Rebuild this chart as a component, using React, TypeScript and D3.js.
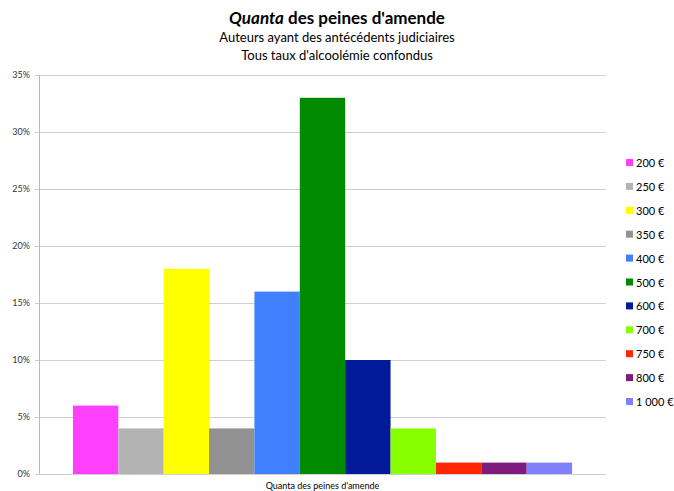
import React, { useEffect, useRef } from 'react';
import * as d3 from 'd3';

const categories = ['200 €', '250 €', '300 €', '350 €', '400 €', '500 €', '600 €', '700 €', '750 €', '800 €', '1 000 €'];
const values = [6, 4, 18, 4, 16, 33, 10, 4, 1, 1, 1];
const colors = ['#ff40ff', '#b3b3b3', '#ffff00', '#929292', '#4080ff', '#008a00', '#001a99', '#88ff00', '#ff2600', '#7f1a7f', '#8080ff'];
const yTicks = [0, 5, 10, 15, 20, 25, 30, 35];
const groupLabel = ['Quanta des peines d\'amende'];

const width = 674;
const height = 491;
const font = 'Lato, "Open Sans", sans-serif';

const App: React.FC = () => {
  const svgRef = useRef<SVGSVGElement>(null);

  useEffect(() => {
    const svg = d3.select(svgRef.current);
    svg.selectAll('*').remove();

    const marginLeft = 39;
    const marginRight = 68;
    const marginTop = 75;
    const plotBottom = 474;

    const x0 = d3.scaleBand<string>()
      .domain(groupLabel)
      .range([marginLeft, width - marginRight])
      .paddingInner(0)
      .paddingOuter(0.068);

    const x1 = d3.scaleBand<string>()
      .domain(categories)
      .range([0, x0.bandwidth()]);

    const y = d3.scaleLinear()
      .domain([0, 35])
      .range([plotBottom, marginTop]);

    // grid lines
    svg.append('g')
      .selectAll('line')
      .data(yTicks)
      .join('line')
      .attr('x1', marginLeft - 4)
      .attr('x2', width - marginRight)
      .attr('y1', d => y(d) + 0.5)
      .attr('y2', d => y(d) + 0.5)
      .attr('stroke', '#cfcfcf')
      .attr('stroke-width', 1);

    // y-axis line
    svg.append('line')
      .attr('x1', marginLeft + 0.5)
      .attr('x2', marginLeft + 0.5)
      .attr('y1', marginTop)
      .attr('y2', plotBottom)
      .attr('stroke', '#b8b8b8');

    // tick labels
    svg.append('g')
      .selectAll('text')
      .data(yTicks)
      .join('text')
      .attr('x', 30)
      .attr('y', d => y(d) + 3)
      .attr('text-anchor', 'end')
      .attr('font-family', font)
      .attr('font-size', '9px')
      .attr('fill', '#333')
      .text(d => `${d}%`);

    // bars
    const g = svg.append('g')
      .attr('transform', `translate(${x0(groupLabel[0])},0)`);
    g.selectAll('rect')
      .data(values)
      .join('rect')
      .attr('x', (_, i) => x1(categories[i]) as number)
      .attr('y', d => y(d))
      .attr('width', x1.bandwidth())
      .attr('height', d => plotBottom - y(d))
      .attr('fill', (_, i) => colors[i]);

    // x-axis label
    svg.append('text')
      .attr('x', (x0(groupLabel[0]) as number) + x0.bandwidth() / 2)
      .attr('y', 489)
      .attr('text-anchor', 'middle')
      .attr('font-family', font)
      .attr('font-size', '9px')
      .attr('fill', '#000')
      .text(groupLabel[0]);

    // legend
    const legend = svg.append('g').attr('transform', 'translate(626,0)');
    const item = legend.selectAll('g')
      .data(categories)
      .join('g')
      .attr('transform', (_, i) => `translate(0,${163 + i * 23.9})`);
    item.append('rect')
      .attr('x', 0)
      .attr('y', -4)
      .attr('width', 7)
      .attr('height', 7)
      .attr('fill', (_, i) => colors[i]);
    item.append('text')
      .attr('x', 10)
      .attr('y', 4)
      .attr('font-family', font)
      .attr('font-size', '11px')
      .attr('fill', '#000')
      .text(d => d);

    // title
    const title = svg.append('text')
      .attr('x', width / 2)
      .attr('y', 24)
      .attr('text-anchor', 'middle')
      .attr('font-family', font)
      .attr('font-size', '17px')
      .attr('font-weight', 'bold');
    title.append('tspan').attr('font-style', 'italic').text('Quanta');
    title.append('tspan').text(' des peines d\'amende');

    svg.append('text')
      .attr('x', width / 2)
      .attr('y', 42)
      .attr('text-anchor', 'middle')
      .attr('font-family', font)
      .attr('font-size', '13px')
      .text('Auteurs ayant des antécédents judiciaires');

    svg.append('text')
      .attr('x', width / 2)
      .attr('y', 60)
      .attr('text-anchor', 'middle')
      .attr('font-family', font)
      .attr('font-size', '13px')
      .text('Tous taux d\'alcoolémie confondus');
  }, []);

  return (
    <svg ref={svgRef} width={width} height={height}
      style={{ position: 'absolute', left: 0, top: 0, background: '#fff' }} />
  );
};

export default App;
